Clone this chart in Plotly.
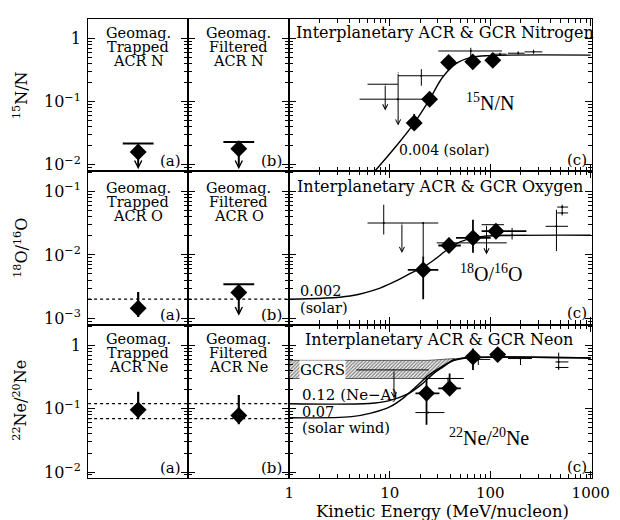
import math
import plotly.graph_objects as go

# ---------------- data ----------------
# panels (a) geomagnetically trapped and (b) geomagnetically filtered ACR; rows = N, O, Ne
trap_val = [0.016, 0.00144, 0.096]
trap_hi = [0.0217, 0.0026, 0.186]
trap_lo = [0.0085, 0.00105, 0.071]
trap_upper_limit = [True, False, False]
filt_val = [0.018, 0.00255, 0.078]
filt_hi = [0.023, 0.00346, 0.165]
filt_lo = [0.0085, 0.0011, 0.057]
filt_upper_limit = [True, True, False]
ref_levels = [[], [0.002], [0.12, 0.07]]

# panel (c) nitrogen 15N/N  (E in MeV/nucleon)
N_E = [17.5, 24.9, 38.5, 67, 106]
N_R = [0.046, 0.11, 0.42, 0.43, 0.455]
N_Rlo = [0.040, 0.10, 0.40, 0.41, 0.43]
N_Rhi = [0.064, 0.12, 0.45, 0.46, 0.48]
N_Elo = [17.5, 24.9, 38.5, 67, 106]
N_Ehi = [17.5, 24.9, 38.5, 67, 106]
Nx_E = [12.0, 20.6, 64, 125, 190, 270]
Nx_R = [0.11, 0.259, 0.64, 0.57, 0.59, 0.62]
Nx_Rlo = [0.11, 0.18, 0.45, 0.54, 0.56, 0.58]
Nx_Rhi = [0.11, 0.329, 0.72, 0.60, 0.63, 0.67]
Nx_Elo = [5.0, 12.1, 30.4, 105, 150, 220]
Nx_Ehi = [29.2, 34.0, 131, 145, 220, 330]
Nu_E = [9.0, 12.1]
Nu_R = [0.19, 0.29]
Nu_tip = [0.073, 0.042]
Nu_Elo = [6.0, 12.1]
Nu_Ehi = [12.1, 12.1]
Nc_E = [1, 3, 6, 7.25, 12.1, 17.5, 24.9, 33.4, 45.6, 63.5, 98.7, 1000]
Nc_R = [0.004, 0.0042, 0.006, 0.0083, 0.0216, 0.0459, 0.109, 0.243, 0.404, 0.502, 0.54, 0.55]

# panel (c) oxygen 18O/16O
O_E = [21.5, 38.8, 67.3, 114]
O_R = [0.0058, 0.0141, 0.0186, 0.0237]
O_Rlo = [0.0020, 0.0108, 0.0108, 0.0195]
O_Rhi = [0.0095, 0.0186, 0.036, 0.029]
O_Elo = [15.1, 30.4, 45.6, 82]
O_Ehi = [30.4, 51, 101, 229]
Ox_E = [8.7, 21.5, 70, 165, 456, 520, 520]
Ox_R = [0.0319, 0.0319, 0.0155, 0.0204, 0.0283, 0.057, 0.046]
Ox_Rlo = [0.021, 0.0096, 0.0155, 0.0175, 0.0115, 0.042, 0.046]
Ox_Rhi = [0.062, 0.0319, 0.0155, 0.0266, 0.0516, 0.062, 0.046]
Ox_Elo = [6.0, 21.5, 29.3, 120, 356, 464, 464]
Ox_Ehi = [13.2, 21.5, 146, 230, 595, 596, 596]
Ou_E = [13.2, 91.8]
Ou_R = [0.0319, 0.030]
Ou_tip = [0.0107, 0.0102]
Ou_Elo = [13.2, 82]
Ou_Ehi = [30.4, 137]
Oc_E = [1, 4, 8, 12, 16, 21.5, 28, 35, 45, 60, 85, 150, 1000]
Oc_R = [0.002, 0.00225, 0.0030, 0.0040, 0.0051, 0.0064, 0.0085, 0.0112, 0.0148, 0.0178, 0.0196, 0.0203, 0.0205]

# panel (c) neon 22Ne/20Ne
Ne_E = [23.2, 39.4, 67.3, 118.6]
Ne_R = [0.175, 0.21, 0.656, 0.715]
Ne_Rlo = [0.056, 0.17, 0.41, 0.60]
Ne_Rhi = [0.30, 0.36, 0.89, 0.85]
Ne_Elo = [18.0, 30.4, 60, 100]
Ne_Ehi = [31.2, 51, 76, 140]
Nex_E = [38, 24, 76, 200, 480, 480]
Nex_R = [0.30, 0.087, 0.60, 0.62, 0.548, 0.448]
Nex_Rlo = [0.25, 0.087, 0.49, 0.49, 0.41, 0.448]
Nex_Rhi = [0.30, 0.087, 0.66, 0.66, 0.77, 0.448]
Nex_Elo = [22.6, 18, 60, 150, 445, 445]
Nex_Ehi = [54.5, 35, 100, 260, 600, 600]
Neu_E = [11.0]
Neu_R = [0.41]
Neu_tip = [0.146]
Neu_Elo = [4.65]
Neu_Ehi = [24.4]
Ne_sw_E = [1, 4.17, 6.49, 10.1, 13.5, 18.2, 24.4, 32.7, 43.9, 56.9, 1000]
Ne_sw_R = [0.072, 0.075, 0.0852, 0.108, 0.146, 0.222, 0.339, 0.457, 0.582, 0.633, 0.633]
Ne_A_E = [1, 6.25, 9.72, 15.1, 20.3, 27.2, 34, 42.4, 54.4, 1000]
Ne_A_R = [0.12, 0.121, 0.133, 0.171, 0.236, 0.36, 0.457, 0.582, 0.633, 0.633]
gcrs_E = [1, 24, 44, 44, 32.7, 24.4, 1, 1]
gcrs_R = [0.58, 0.58, 0.62, 0.62, 0.457, 0.30, 0.30, 0.58]

# tick labels
x_tickvals = [1, 10, 100, 1000]
x_ticktext = ["1", "10", "100", "1000"]
y_tickvals = [[1, 0.1, 0.01], [0.1, 0.01, 0.001], [1, 0.1, 0.01]]
y_ticktext = [["1", "10<sup>−1</sup>", "10<sup>−2</sup>"],
              ["10<sup>−1</sup>", "10<sup>−2</sup>", "10<sup>−3</sup>"],
              ["1", "10<sup>−1</sup>", "10<sup>−2</sup>"]]
y_titles = ["<sup>15</sup>N/N", "<sup>18</sup>O/<sup>16</sup>O", "<sup>22</sup>Ne/<sup>20</sup>Ne"]
elements = ["N", "O", "Ne"]
ratio_labels = ["<sup>15</sup>N/N", "<sup>18</sup>O/<sup>16</sup>O", "<sup>22</sup>Ne/<sup>20</sup>Ne"]

# ---------------- layout geometry ----------------
W, H = 620, 520
col_px = [(78, 182), (182, 287), (287, 601)]
row_px = [(11, 164), (164, 319), (319, 474)]
y_ranges = [[-2.094, 0.315], [-3.099, -0.671], [-2.099, 0.329]]
SERIF = "DejaVu Serif"
TIMES = "Liberation Serif"


def minor_vals(lo_dec, hi_dec):
    return [k * 10.0 ** d for d in range(lo_dec, hi_dec) for k in range(2, 10)]


fig = go.Figure()


def ax_names(r, c):
    i = r * 3 + c + 1
    return ("x" if i == 1 else f"x{i}"), ("y" if i == 1 else f"y{i}"), i


for r in range(3):
    for c in range(3):
        xn, yn, i = ax_names(r, c)
        xdom = [col_px[c][0] / W, col_px[c][1] / W]
        ydom = [1 - row_px[r][1] / H, 1 - row_px[r][0] / H]
        base = dict(showline=True, linecolor="black", linewidth=1.1, mirror="allticks",
                    showgrid=False, zeroline=False)
        if c < 2:
            xa = dict(base, domain=xdom, anchor=yn, range=[0, 1], ticks="", showticklabels=False)
        else:
            xa = dict(base, domain=xdom, anchor=yn, type="log", range=[0, 3.01],
                      tickmode="array", tickvals=x_tickvals, ticktext=x_ticktext,
                      ticks="inside", ticklen=7, tickwidth=1.2, tickcolor="black",
                      showticklabels=(r == 2), ticklabelstandoff=1,
                      tickfont=dict(family=SERIF, size=15, color="black"),
                      minor=dict(tickmode="array", tickvals=minor_vals(0, 3), ticks="inside",
                                 ticklen=4, tickwidth=1, tickcolor="black", showgrid=False))
        ya = dict(base, domain=ydom, anchor=xn, type="log", range=y_ranges[r],
                  tickmode="array", tickvals=y_tickvals[r], ticktext=y_ticktext[r],
                  ticks="inside", ticklen=7, tickwidth=1.2, tickcolor="black",
                  showticklabels=(c == 0), ticklabelstandoff=3,
                  tickfont=dict(family=SERIF, size=16, color="black"),
                  minor=dict(tickmode="array", tickvals=minor_vals(-4, 1), ticks="inside",
                             ticklen=4, tickwidth=1, tickcolor="black", showgrid=False))
        fig.layout["xaxis" if i == 1 else f"xaxis{i}"] = xa
        fig.layout["yaxis" if i == 1 else f"yaxis{i}"] = ya


def err(v, lo, hi, thick=1.0):
    return dict(type="data", symmetric=False,
                array=[h - x for x, h in zip(v, hi)],
                arrayminus=[x - l for x, l in zip(v, lo)],
                color="black", thickness=thick, width=0)


def arrow(xn, yn, x, ytop, ytip, width, size, logx):
    xv = math.log10(x) if logx else x
    fig.add_annotation(x=xv, y=math.log10(ytip), ax=xv, ay=math.log10(ytop),
                       xref=xn, yref=yn, axref=xn, ayref=yn, text="", showarrow=True,
                       arrowhead=5, arrowsize=size, arrowwidth=width, arrowcolor="black",
                       standoff=0, startstandoff=0)


def text(xn, yn, fx, fy, s, size=15, family=SERIF, xanchor="center", **kw):
    fig.add_annotation(x=fx, y=fy, xref=f"{xn} domain", yref=f"{yn} domain", text=s,
                       showarrow=False, xanchor=xanchor, yanchor="middle",
                       font=dict(family=family, size=size, color="black"), **kw)


# ---------- panels (a) and (b) ----------
geo = [("Trapped", trap_val, trap_lo, trap_hi, trap_upper_limit, "(a)"),
       ("Filtered", filt_val, filt_lo, filt_hi, filt_upper_limit, "(b)")]
title_offset = [14, 17.5, 15]
for r in range(3):
    for c, (kind, val, lo, hi, lim, tag) in enumerate(geo):
        xn, yn, _ = ax_names(r, c)
        for lev in ref_levels[r]:
            fig.add_trace(go.Scatter(x=[0, 1], y=[lev, lev], mode="lines", xaxis=xn, yaxis=yn,
                                     line=dict(color="black", width=1.3, dash="dot"),
                                     showlegend=False, hoverinfo="skip"))
        if lim[r]:
            fig.add_trace(go.Scatter(x=[0.5], y=[hi[r]], mode="markers", xaxis=xn, yaxis=yn,
                                     marker=dict(symbol="line-ew", size=22,
                                                 line=dict(color="black", width=2)),
                                     showlegend=False))
            arrow(xn, yn, 0.5, hi[r], lo[r], 2, 0.7, False)
            fig.add_trace(go.Scatter(x=[0.5], y=[val[r]], mode="markers", xaxis=xn, yaxis=yn,
                                     marker=dict(symbol="diamond", size=13, color="black"),
                                     showlegend=False))
        else:
            fig.add_trace(go.Scatter(x=[0.5], y=[val[r]], mode="markers", xaxis=xn, yaxis=yn,
                                     marker=dict(symbol="diamond", size=13, color="black"),
                                     error_y=err([val[r]], [lo[r]], [hi[r]], 2.2),
                                     showlegend=False))
        top, bot = row_px[r]
        hgt = bot - top
        for k, line in enumerate(["Geomag.", kind, f"ACR {elements[r]}"]):
            yc = top + title_offset[r] + 14 * k
            text(xn, yn, 0.5, (bot - yc) / hgt, line, size=14.5)
        text(xn, yn, 0.95, 10 / hgt, tag, xanchor="right")

# ---------- panel (c) ----------
c_sets = [
    (N_E, N_R, N_Rlo, N_Rhi, N_Elo, N_Ehi, Nx_E, Nx_R, Nx_Rlo, Nx_Rhi, Nx_Elo, Nx_Ehi,
     Nu_E, Nu_R, Nu_tip, Nu_Elo, Nu_Ehi),
    (O_E, O_R, O_Rlo, O_Rhi, O_Elo, O_Ehi, Ox_E, Ox_R, Ox_Rlo, Ox_Rhi, Ox_Elo, Ox_Ehi,
     Ou_E, Ou_R, Ou_tip, Ou_Elo, Ou_Ehi),
    (Ne_E, Ne_R, Ne_Rlo, Ne_Rhi, Ne_Elo, Ne_Ehi, Nex_E, Nex_R, Nex_Rlo, Nex_Rhi, Nex_Elo, Nex_Ehi,
     Neu_E, Neu_R, Neu_tip, Neu_Elo, Neu_Ehi),
]
curves = [[(Nc_E, Nc_R)], [(Oc_E, Oc_R)], [(Ne_sw_E, Ne_sw_R), (Ne_A_E, Ne_A_R)]]

for r in range(3):
    xn, yn, _ = ax_names(r, 2)
    (dE, dR, dRlo, dRhi, dElo, dEhi, xE, xR, xRlo, xRhi, xElo, xEhi,
     uE, uR, uTip, uElo, uEhi) = c_sets[r]
    if r == 2:
        fig.add_trace(go.Scatter(x=gcrs_E, y=gcrs_R, mode="lines", fill="toself", xaxis=xn, yaxis=yn,
                                 line=dict(color="black", width=0.6), fillcolor="white",
                                 fillpattern=dict(shape="/", fgcolor="black", bgcolor="white",
                                                  size=2.5, solidity=0.55),
                                 showlegend=False, hoverinfo="skip"))
    for cE, cR in curves[r]:
        fig.add_trace(go.Scatter(x=cE, y=cR, mode="lines", xaxis=xn, yaxis=yn,
                                 line=dict(color="black", width=1.4, shape="spline", smoothing=1.0),
                                 showlegend=False, hoverinfo="skip"))
    # thin crosses
    fig.add_trace(go.Scatter(x=xE, y=xR, mode="markers", xaxis=xn, yaxis=yn,
                             marker=dict(size=2, color="black"),
                             error_x=err(xE, xElo, xEhi, 1.0), error_y=err(xR, xRlo, xRhi, 1.0),
                             showlegend=False))
    # upper limits: horizontal bar + arrow
    fig.add_trace(go.Scatter(x=uE, y=uR, mode="markers", xaxis=xn, yaxis=yn,
                             marker=dict(size=1, color="black"),
                             error_x=err(uE, uElo, uEhi, 1.0), showlegend=False))
    for e, top_v, tip_v in zip(uE, uR, uTip):
        arrow(xn, yn, e, top_v, tip_v, 1, 1.0, True)
    # diamonds
    fig.add_trace(go.Scatter(x=dE, y=dR, mode="markers", xaxis=xn, yaxis=yn,
                             marker=dict(symbol="diamond", size=13, color="black"),
                             error_x=err(dE, dElo, dEhi, 1.8), error_y=err(dR, dRlo, dRhi, 1.8),
                             showlegend=False))


def fy(r, py):
    top, bot = row_px[r]
    return (bot - py) / (bot - top)


def fx(px):
    return (px - 287) / (601 - 287)


xn, yn, _ = ax_names(0, 2)
text(xn, yn, fx(448.5), fy(0, 25), "Interplanetary ACR & GCR Nitrogen", size=16)
text(xn, yn, fx(495), fy(0, 95), ratio_labels[0], size=20, family=TIMES)
text(xn, yn, fx(399), fy(0, 143), "0.004 (solar)", size=14, xanchor="left")
text(xn, yn, fx(598), fy(0, 153), "(c)", xanchor="right")

xn, yn, _ = ax_names(1, 2)
text(xn, yn, fx(443), fy(1, 180), "Interplanetary ACR & GCR Oxygen", size=16)
text(xn, yn, fx(496), fy(1, 267), ratio_labels[1], size=20, family=TIMES)
text(xn, yn, fx(296), fy(1, 285), "0.002", size=14.5, xanchor="left")
text(xn, yn, fx(296), fy(1, 302), "(solar)", size=14.5, xanchor="left")
text(xn, yn, fx(598), fy(1, 307), "(c)", xanchor="right")

xn, yn, _ = ax_names(2, 2)
text(xn, yn, fx(442), fy(2, 334), "Interplanetary ACR & GCR Neon", size=16)
text(xn, yn, fx(297), fy(2, 365), "GCRS", xanchor="left", bgcolor="white", borderpad=0)
text(xn, yn, fx(298), fy(2, 390), "0.12 (Ne−A)", xanchor="left")
text(xn, yn, fx(298), fy(2, 407), "0.07", size=14.5, xanchor="left")
text(xn, yn, fx(298), fy(2, 423), "(solar wind)", size=14.5, xanchor="left")
text(xn, yn, fx(494), fy(2, 432), ratio_labels[2], size=20, family=TIMES)
text(xn, yn, fx(598), fy(2, 463), "(c)", xanchor="right")

# axis titles
y_centres = [88, 242, 395]
for r in range(3):
    fig.add_annotation(x=8 / W, y=1 - y_centres[r] / H, xref="paper", yref="paper",
                       xanchor="center", yanchor="middle",
                       text=y_titles[r], textangle=-90, showarrow=False,
                       font=dict(family=SERIF, size=16, color="black"))
fig.add_annotation(x=446 / W, y=1 - 507 / H, xref="paper", yref="paper",
                   xanchor="center", yanchor="middle",
                   text="Kinetic Energy (MeV/nucleon)", showarrow=False,
                   font=dict(family=SERIF, size=16.5, color="black"))

fig.update_layout(width=W, height=H, margin=dict(l=0, r=0, t=0, b=0),
                  paper_bgcolor="white", plot_bgcolor="white", showlegend=False)
fig.write_html("out.html")
